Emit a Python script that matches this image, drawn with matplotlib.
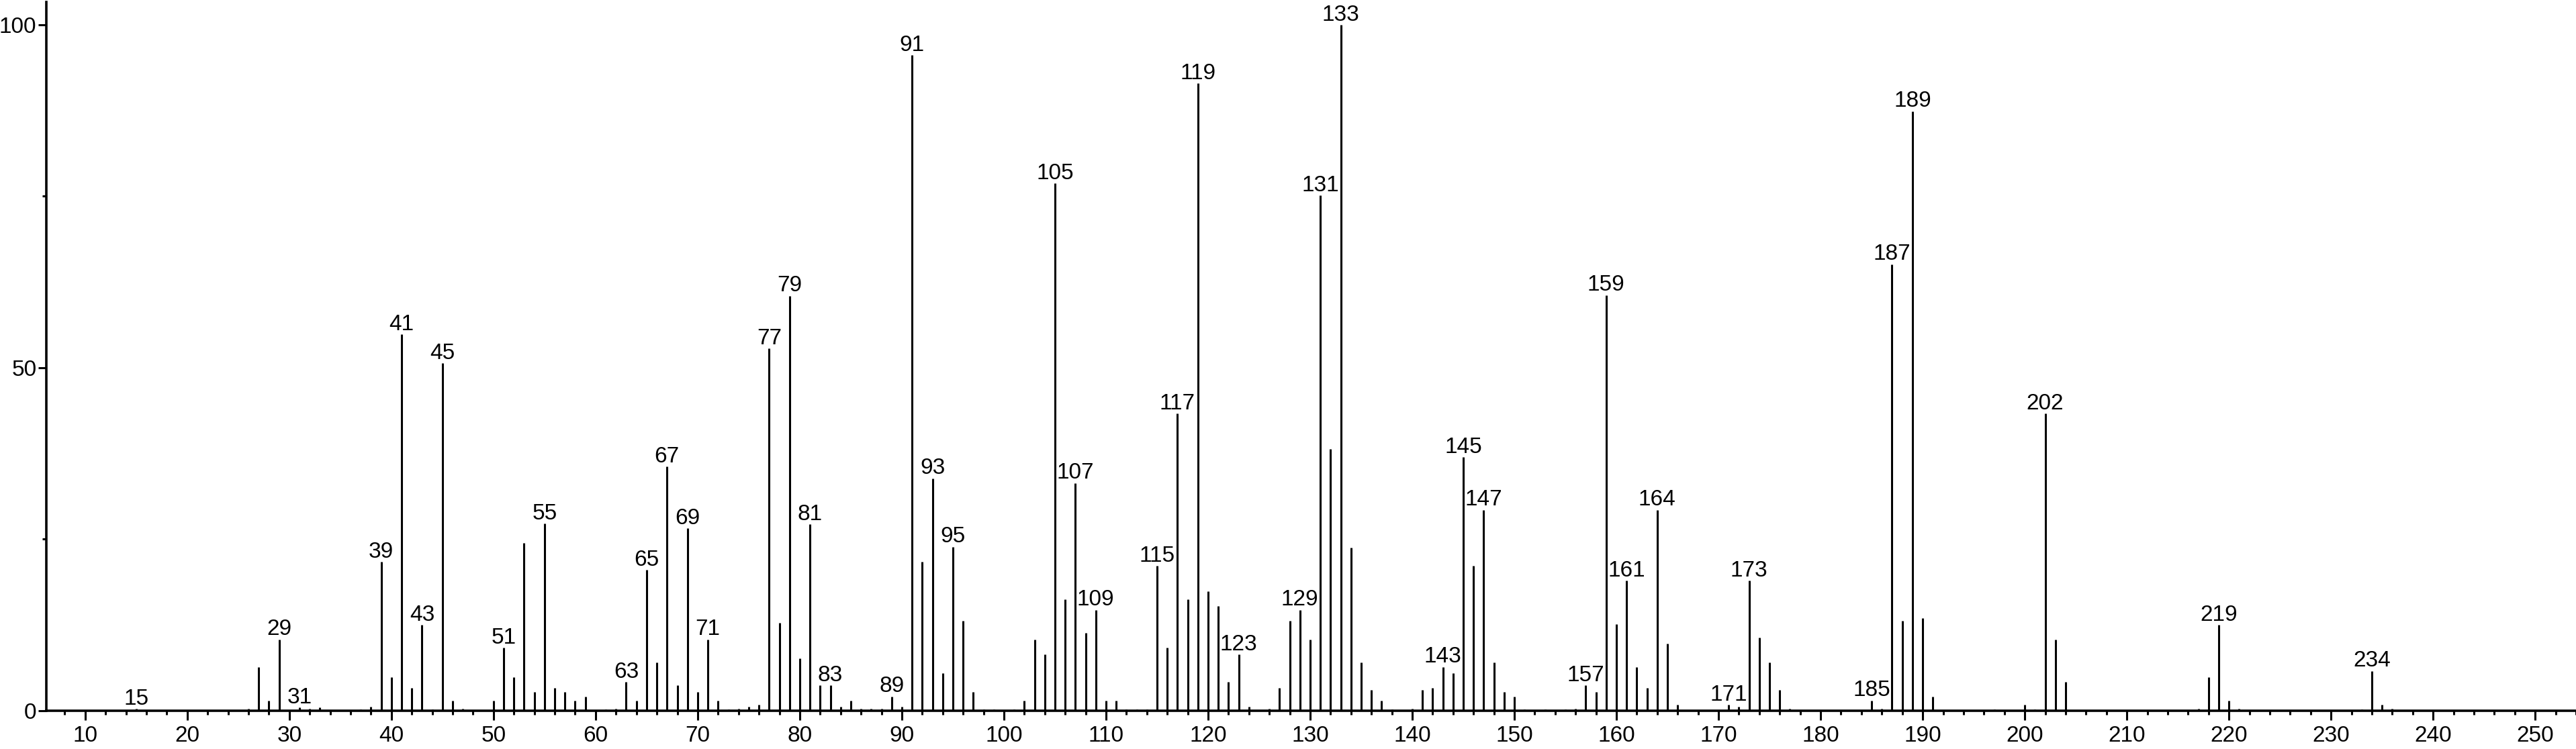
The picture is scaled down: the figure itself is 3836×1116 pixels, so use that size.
import numpy as np
import matplotlib
matplotlib.use("Agg")
import matplotlib.pyplot as plt
from matplotlib.ticker import MultipleLocator

# mass spectrum: m/z and relative intensity (%)
mz = [15, 26, 27, 28, 29, 31, 32, 33, 37, 38, 39, 40, 41, 42, 43, 44, 45, 46, 47,
      50, 51, 52, 53, 54, 55, 56, 57, 58, 59, 61, 62, 63, 64, 65, 66, 67, 68, 69,
      70, 71, 72, 73, 74, 75, 76, 77, 78, 79, 80, 81, 82, 83, 84, 85, 86, 87, 88,
      89, 90, 91, 92, 93, 94, 95, 96, 97, 98, 99, 101, 102, 103, 104, 105, 106,
      107, 108, 109, 110, 111, 112, 113, 114, 115, 116, 117, 118, 119, 120, 121,
      122, 123, 124, 126, 127, 128, 129, 130, 131, 132, 133, 134, 135, 136, 137,
      138, 140, 141, 142, 143, 144, 145, 146, 147, 148, 149, 150, 151, 153, 155,
      156, 157, 158, 159, 160, 161, 162, 163, 164, 165, 166, 171, 172, 173, 174,
      175, 176, 177, 185, 186, 187, 188, 189, 190, 191, 197, 200, 201, 202, 203,
      204, 217, 218, 219, 220, 221, 233, 234, 235, 236]
intensity = [0.3, 0.3, 6.4, 1.5, 10.4, 0.5, 0.3, 0.5, 0.2, 0.6, 21.7, 4.9, 54.9, 3.3, 12.5, 0.2, 50.7, 1.5, 0.3,
             1.5, 9.2, 4.9, 24.5, 2.7, 27.3, 3.3, 2.7, 1.5, 2.1, 0.2, 0.3, 4.2, 1.5, 20.5, 7.0, 35.6, 3.7, 26.6,
             2.7, 10.4, 1.5, 0.2, 0.3, 0.6, 0.9, 52.8, 12.8, 60.5, 7.6, 27.2, 3.7, 3.7, 0.6, 1.5, 0.3, 0.3, 0.3,
             2.1, 0.6, 95.6, 21.7, 33.9, 5.5, 23.9, 13.1, 2.7, 0.2, 0.2, 0.2, 1.5, 10.4, 8.2, 76.9, 16.2,
             33.2, 11.3, 14.7, 1.5, 1.5, 0.2, 0.2, 0.2, 21.1, 9.2, 43.3, 16.2, 91.5, 17.4, 15.3,
             4.2, 8.2, 0.6, 0.3, 3.3, 13.1, 14.7, 10.4, 75.1, 38.2, 100.0, 23.8, 7.0, 3.0, 1.5,
             0.2, 0.3, 3.0, 3.3, 6.4, 5.5, 37.0, 21.1, 29.3, 7.0, 2.7, 2.1, 0.2, 0.2, 0.2,
             0.3, 3.7, 2.7, 60.6, 12.6, 19.0, 6.4, 3.3, 29.3, 9.8, 0.9, 0.9, 0.6, 19.0, 10.7,
             7.0, 3.0, 0.3, 1.5, 0.3, 65.1, 13.1, 87.4, 13.5, 2.1, 0.2, 0.9, 0.2, 43.3, 10.4,
             4.2, 0.3, 4.9, 12.5, 1.5, 0.3, 0.2, 5.8, 0.9, 0.3]

# peaks that carry an m/z label
labelled = [15, 29, 31, 39, 41, 43, 45, 51, 55, 63, 65, 67, 69, 71, 77, 79, 81, 83, 89,
            91, 93, 95, 105, 107, 109, 115, 117, 119, 123, 129, 131, 133, 143, 145, 147,
            157, 159, 161, 164, 171, 173, 185, 187, 189, 202, 219, 234]

plt.rcParams['font.family'] = ['Liberation Sans', 'DejaVu Sans']

fig = plt.figure(figsize=(38.36, 11.16), dpi=100)
ax = fig.add_axes([0.018, 0.0511, 0.982, 0.946])

ax.vlines(mz, 0, intensity, colors='black', linewidth=2.2)

lookup = dict(zip(mz, intensity))
for m in labelled:
    ax.annotate(str(m), (m, lookup[m]), xytext=(0, 4.5), textcoords='offset points',
                ha='center', va='baseline', fontsize=24)

ax.set_xlim(6.2, 254)
ax.set_ylim(0, 103.3)

ax.xaxis.set_major_locator(MultipleLocator(10))
ax.xaxis.set_minor_locator(MultipleLocator(2))
ax.yaxis.set_major_locator(MultipleLocator(50))
ax.yaxis.set_minor_locator(MultipleLocator(25))

ax.tick_params(axis='x', which='major', length=10, width=2.2, labelsize=24, pad=6)
ax.tick_params(axis='x', which='minor', length=4.5, width=2.2)
ax.tick_params(axis='y', which='major', length=9, width=2.2, labelsize=24, pad=1.5)
ax.tick_params(axis='y', which='minor', length=4, width=2.2)

for side in ['top', 'right']:
    ax.spines[side].set_visible(False)
for side in ['left', 'bottom']:
    ax.spines[side].set_linewidth(2.6)

fig.savefig("out.png", dpi=100)
